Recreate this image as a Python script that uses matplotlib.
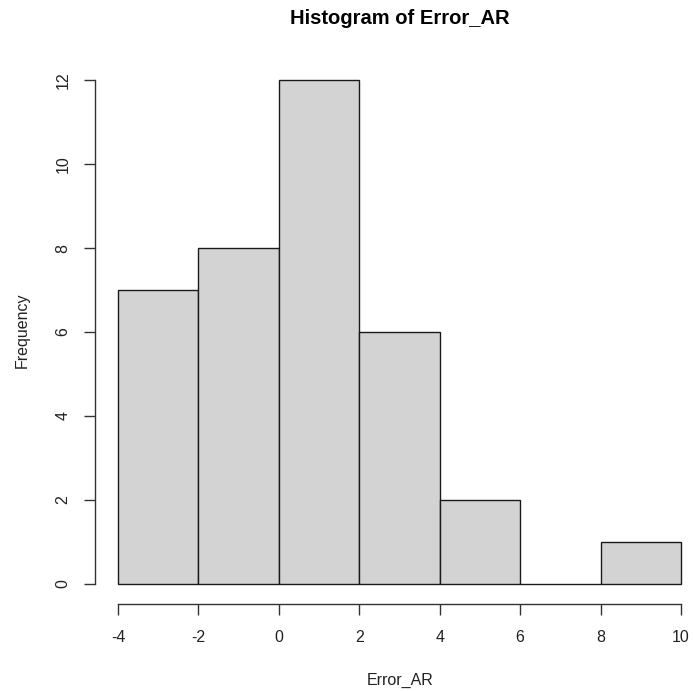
import matplotlib.pyplot as plt

plt.rcParams["font.family"] = ["Liberation Sans", "DejaVu Sans"]
plt.rcParams["axes.unicode_minus"] = False

bin_edges = [-4, -2, 0, 2, 4, 6, 8, 10]
counts = [7, 8, 12, 6, 2, 0, 1]
x_ticks = [-4, -2, 0, 2, 4, 6, 8, 10]
y_ticks = [0, 2, 4, 6, 8, 10, 12]

fig = plt.figure(figsize=(6.93, 6.91), dpi=100)
ax = fig.add_axes([95.5 / 693, 87 / 691, 608 / 693, 544 / 691])

ax.hist(bin_edges[:-1], bins=bin_edges, weights=counts,
        color="#d3d3d3", edgecolor="#1a1a1a", linewidth=1.0)

ax.set_xlim(-4.56, 10.56)
ax.set_ylim(-0.48, 12.48)

for side in ("top", "right"):
    ax.spines[side].set_visible(False)
ax.spines["left"].set_bounds(0, 12)
ax.spines["bottom"].set_bounds(-4, 10)
for side in ("left", "bottom"):
    ax.spines[side].set_linewidth(1.0)
    ax.spines[side].set_color("#333333")

ax.set_xticks(x_ticks)
ax.set_yticks(y_ticks)
ax.tick_params(axis="both", length=8, width=1.0, color="#333333",
               labelsize=11.5, labelcolor="#222222")
ax.tick_params(axis="x", pad=11)
ax.tick_params(axis="y", pad=10)
for lbl in ax.get_yticklabels():
    lbl.set_rotation(90)
    lbl.set_va("center")

fig.text((95.5 + 703.5) / 2 / 693, 1 - 18 / 691, "Histogram of Error_AR",
         ha="center", va="center", fontsize=14.5, fontweight="bold")
fig.text(400 / 693, 1 - 680 / 691, "Error_AR", ha="center", va="center",
         fontsize=11.5, color="#222222")
fig.text(22 / 693, 1 - 330 / 691, "Frequency", ha="center", va="center",
         rotation=90, fontsize=11.5, color="#222222")

fig.savefig("out.png", dpi=100)
